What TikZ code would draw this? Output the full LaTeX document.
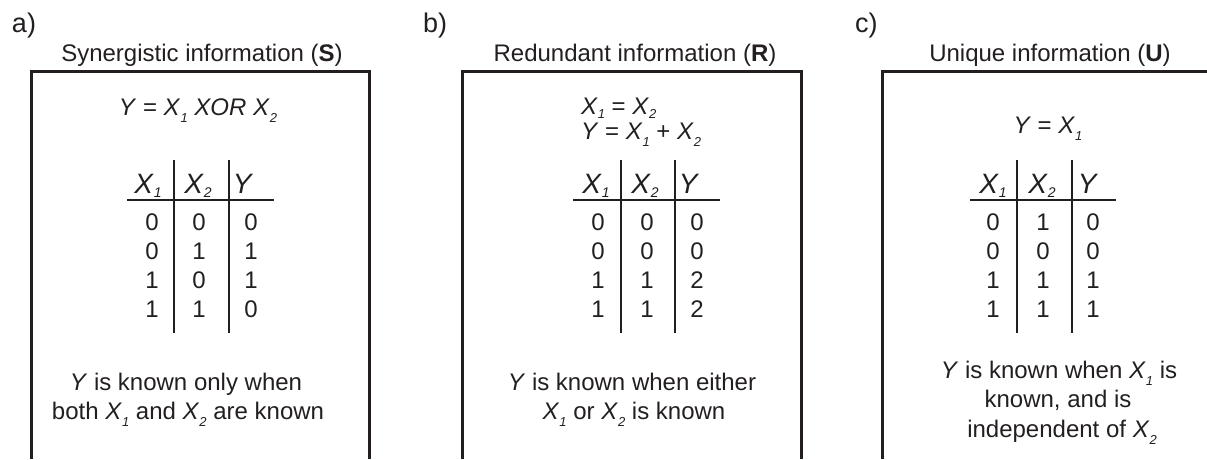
\documentclass[tikz,border=0pt]{standalone}
\usepackage{fontspec}
\setmainfont{Liberation Sans}
\definecolor{ink}{HTML}{231F20}
\newcommand\xs[1]{\raisebox{-7pt}{\fontsize{13}{13}\selectfont\itshape #1}}
\newcommand\xe[1]{\raisebox{-4pt}{\fontsize{13}{13}\selectfont\itshape #1}}
\newcommand\xh[1]{\raisebox{-4pt}{\fontsize{14}{14}\selectfont\itshape #1}}
\tikzset{
  txt/.style={inner sep=0pt, outer sep=0pt, anchor=base, text=ink, font=\fontsize{24}{29}\selectfont},
  hdr/.style={txt, font=\fontsize{28}{30}\selectfont},
  lbl/.style={txt, anchor=base west, font=\fontsize{27}{30}\selectfont},
  eqw/.style={txt, anchor=base west},
  frame/.style={draw=ink, line width=3pt},
  rule/.style={draw=ink, line width=1.5pt}
}
\begin{document}
\begin{tikzpicture}[x=1pt, y=-1pt]
\useasboundingbox (0,0) rectangle (1207,459);
% ---------- frames ----------
\draw[frame] (31,459) -- (31,71) -- (369,71) -- (369,459);
\draw[frame] (462,459) -- (462,71) -- (801,71) -- (801,459);
\draw[frame] (882,459) -- (882,71) -- (1207,71);
% ---------- labels and titles ----------
\node[lbl] (la) at (12,32) {a)};
\node[lbl] (lb) at (423,32) {b)};
\node[lbl] (lc) at (855,32) {c)};
\node[txt] (ta) at (202,61) {Synergistic information (\textbf{S})};
\node[txt] (tb) at (635,61) {Redundant information (\textbf{R})};
\node[txt] (tc) at (1050,61) {Unique information (\textbf{U})};
% ---------- equations ----------
\node[txt] (ea) at (198,115) {\textit{Y} = \textit{X}\xs{1} \textit{XOR X}\xs{2}};
\node[eqw] (eb1) at (581,114) {\textit{X}\xe{1} = \textit{X}\xe{2}};
\node[eqw] (eb2) at (581,139) {\textit{Y} = \textit{X}\xs{1} + \textit{X}\xs{2}};
\node[txt] (ec) at (1048,133) {\textit{Y} = \textit{X}\xs{1}};
% ---------- tables: rules ----------
\draw[rule] (127,200) -- (274,200);
\draw[rule] (174,160) -- (174,333);
\draw[rule] (229,160) -- (229,333);
\draw[rule] (573,200) -- (720,200);
\draw[rule] (621,160) -- (621,333);
\draw[rule] (675,160) -- (675,333);
\draw[rule] (970,200) -- (1116,200);
\draw[rule] (1017,160) -- (1017,333);
\draw[rule] (1072,160) -- (1072,333);
% ---------- tables: headers ----------
\node[hdr] (ha1) at (148,193) {\textit{X}\xh{1}};
\node[hdr] (ha2) at (198,193) {\textit{X}\xh{2}};
\node[hdr] (ha3) at (243,193) {\textit{Y}};
\node[hdr] (hb1) at (596,193) {\textit{X}\xh{1}};
\node[hdr] (hb2) at (645,193) {\textit{X}\xh{2}};
\node[hdr] (hb3) at (689,193) {\textit{Y}};
\node[hdr] (hc1) at (993,193) {\textit{X}\xh{1}};
\node[hdr] (hc2) at (1042,193) {\textit{X}\xh{2}};
\node[hdr] (hc3) at (1088,193) {\textit{Y}};
% ---------- tables: values ----------
\foreach \r/\da/\db/\dc [count=\i] in {230/0/0/0, 259/0/1/1, 288/1/0/1, 317/1/1/0} {
  \node[txt] (a-\i-1) at (152,\r) {\da};
  \node[txt] (a-\i-2) at (199,\r) {\db};
  \node[txt] (a-\i-3) at (251,\r) {\dc};
}
\foreach \r/\da/\db/\dc [count=\i] in {230/0/0/0, 259/0/0/0, 288/1/1/2, 317/1/1/2} {
  \node[txt] (b-\i-1) at (598,\r) {\da};
  \node[txt] (b-\i-2) at (647,\r) {\db};
  \node[txt] (b-\i-3) at (697,\r) {\dc};
}
\foreach \r/\da/\db/\dc [count=\i] in {230/0/1/0, 259/0/0/0, 288/1/1/1, 317/1/1/1} {
  \node[txt] (c-\i-1) at (993,\r) {\da};
  \node[txt] (c-\i-2) at (1043,\r) {\db};
  \node[txt] (c-\i-3) at (1093,\r) {\dc};
}
% ---------- explanations ----------
\node[txt] (da1) at (186,390) {\textit{Y} is known only when};
\node[txt] (da2) at (188,419) {both \textit{X}\xs{1} and \textit{X}\xs{2} are known};
\node[txt] (db1) at (632,390) {\textit{Y} is known when either};
\node[txt] (db2) at (634,419) {\textit{X}\xs{1} or \textit{X}\xs{2} is known};
\node[txt] (dc1) at (1059,378) {\textit{Y} is known when \textit{X}\xs{1} is};
\node[txt] (dc2) at (1058,407) {known, and is};
\node[txt] (dc3) at (1062,437) {independent of \textit{X}\xs{2}};
\end{tikzpicture}
\end{document}
